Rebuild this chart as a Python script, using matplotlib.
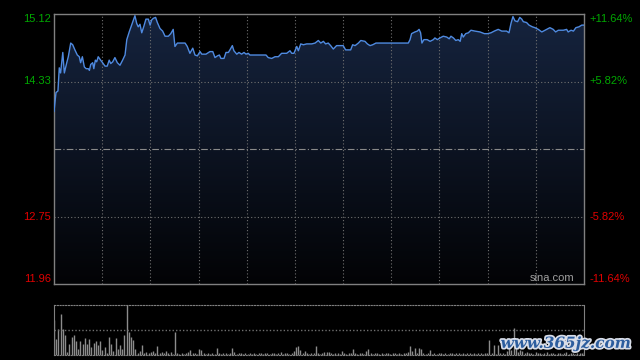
import matplotlib
matplotlib.use("Agg")
import matplotlib.pyplot as plt
import matplotlib.patheffects as pe
from matplotlib.patches import Polygon
import numpy as np

# 分时数据（开盘后分钟数，价格）
minute = [0, 0.9, 1.8, 2.4, 3.0, 4.0, 4.7, 5.8, 6.5, 7.6, 8.5, 9.5, 10.6, 11.5, 12.1,
          12.9, 13.8, 14.6, 15.6, 16.1, 16.7, 17.6, 18.1, 18.8, 19.4, 20.1, 21.2, 22.1,
          23.2, 24.2, 25.1, 25.8, 26.7, 27.7, 28.8, 30.0, 31.2, 32.3, 33.1, 34.2, 35.3,
          36.1, 36.8, 37.6, 38.3, 39.1, 39.9, 40.9, 41.8, 42.9, 43.7, 44.4, 45.2, 46.2,
          47.0, 48.2, 49.4, 50.5, 52.0, 53.1, 54.2, 55.0, 56.1, 57.3, 59.6, 60.6, 61.8,
          63.1, 64.1, 65.2, 66.4, 67.2, 69.1, 70.9, 72.2, 73.2, 74.3, 75.2, 75.9, 77.3,
          78.2, 79.3, 80.0, 81.1, 81.8, 83.1, 84.1, 85.3, 86.4, 87.3, 88.3, 89.1, 91.4,
          96.4, 97.4, 99.0, 100.5, 102.0, 103.5, 105.8, 107.3, 108.1, 109.1, 110.4,
          111.1, 112.2, 113.4, 114.9, 117.2, 118.7, 120.2, 121.3, 122.5, 123.5, 124.7,
          125.8, 127.0, 128.5, 130.0, 131.5, 132.6, 134.9, 135.8, 136.9, 138.4, 139.5,
          141.4, 142.5, 143.7, 144.9, 146.4, 148.2, 149.7, 152.0, 154.3, 156.1, 158.1,
          161.1, 161.9, 162.6, 164.1, 165.2, 166.0, 166.7, 167.3, 168.2, 169.7, 171.0,
          172.5, 173.2, 174.3, 175.5, 177.0, 178.6, 179.7, 180.5, 181.6, 182.7, 183.8,
          184.7, 185.4, 186.1, 187.2, 188.4, 189.6, 191.4, 193.7, 195.7, 197.2, 198.7,
          200.2, 202.0, 203.6, 205.8, 206.9, 207.8, 208.7, 209.6, 210.8, 211.8, 212.7,
          213.4, 214.9, 216.0, 217.5, 218.7, 220.2, 221.8, 223.3, 225.5, 227.0, 228.1,
          229.3, 231.6, 233.1, 233.8, 235.1, 236.2, 237.3, 238.7, 240.0, 241.0]
price = [13.98, 14.20, 14.22, 14.49, 14.43, 14.67, 14.43, 14.55, 14.62, 14.78, 14.76,
         14.70, 14.64, 14.62, 14.55, 14.62, 14.50, 14.48, 14.48, 14.46, 14.53, 14.55,
         14.48, 14.58, 14.56, 14.62, 14.58, 14.55, 14.51, 14.51, 14.58, 14.54, 14.56,
         14.61, 14.55, 14.52, 14.58, 14.64, 14.82, 14.91, 14.99, 15.05, 15.10, 15.01,
         14.97, 15.00, 14.90, 14.98, 15.06, 15.06, 14.99, 15.05, 15.07, 15.08, 15.02,
         14.95, 14.92, 14.86, 14.86, 14.89, 14.94, 14.74, 14.78, 14.78, 14.78, 14.74,
         14.66, 14.72, 14.64, 14.63, 14.68, 14.65, 14.65, 14.68, 14.68, 14.61, 14.63,
         14.64, 14.60, 14.60, 14.67, 14.67, 14.70, 14.75, 14.69, 14.65, 14.67, 14.65,
         14.67, 14.65, 14.66, 14.64, 14.64, 14.64, 14.61, 14.60, 14.62, 14.62, 14.66,
         14.66, 14.69, 14.66, 14.66, 14.74, 14.69, 14.77, 14.76, 14.77, 14.77, 14.78,
         14.81, 14.78, 14.80, 14.77, 14.78, 14.75, 14.71, 14.75, 14.75, 14.75, 14.70,
         14.70, 14.76, 14.75, 14.78, 14.81, 14.80, 14.77, 14.75, 14.76, 14.78, 14.78,
         14.78, 14.78, 14.78, 14.78, 14.78, 14.78, 14.82, 14.89, 14.91, 14.92, 14.94,
         14.90, 14.78, 14.82, 14.82, 14.80, 14.82, 14.84, 14.82, 14.84, 14.86, 14.85,
         14.83, 14.86, 14.84, 14.81, 14.82, 14.80, 14.89, 14.85, 14.89, 14.90, 14.93,
         14.92, 14.91, 14.89, 14.89, 14.90, 14.92, 14.94, 14.92, 14.92, 14.90, 15.01,
         15.09, 15.04, 15.03, 15.08, 15.06, 15.03, 15.02, 14.99, 14.97, 14.96, 14.94,
         14.91, 14.93, 14.96, 14.94, 14.91, 14.93, 14.93, 14.94, 14.91, 14.93, 14.92,
         14.96, 14.97, 14.99, 14.99]

# 每分钟成交量（相对值）
volume = [70, 33, 53, 82, 53, 40, 7, 23, 37, 41,
          28, 13, 28, 23, 35, 23, 32, 17, 25, 28,
          20, 28, 10, 17, 5, 37, 23, 8, 35, 12,
          20, 12, 41, 100, 47, 37, 30, 12, 5, 8,
          20, 5, 7, 4, 6, 8, 5, 19, 4, 6,
          5, 8, 4, 6, 3, 47, 4, 3, 5, 3,
          4, 6, 10, 4, 5, 3, 12, 10, 4, 3,
          4, 3, 5, 3, 15, 4, 3, 5, 4, 3,
          4, 15, 6, 3, 4, 5, 3, 4, 3, 5,
          3, 4, 3, 5, 4, 3, 5, 4, 3, 4,
          5, 3, 4, 6, 3, 4, 5, 3, 4, 8,
          17, 18, 10, 5, 8, 4, 3, 5, 4, 18,
          4, 3, 5, 7, 7, 7, 4, 3, 5, 4,
          3, 8, 4, 3, 5, 4, 12, 4, 3, 5,
          4, 3, 8, 12, 4, 3, 5, 4, 3, 4,
          3, 5, 4, 3, 4, 5, 3, 4, 3, 5,
          4, 6, 18, 8, 15, 5, 15, 12, 4, 3,
          4, 10, 3, 4, 3, 5, 4, 3, 4, 3,
          5, 4, 3, 4, 5, 3, 4, 3, 5, 4,
          3, 4, 3, 5, 4, 3, 4, 5, 30, 4,
          21, 3, 20, 4, 5, 3, 8, 27, 10, 55,
          15, 6, 10, 8, 5, 6, 4, 5, 3, 6,
          4, 5, 3, 4, 6, 3, 4, 5, 3, 4,
          5, 3, 4, 6, 3, 4, 5, 3, 4, 5,
          4, 6]

pre_close = 13.54
price_ticks = [15.12, 14.33, 12.75, 11.96]
pct_labels = ["+11.64%", "+5.82%", "-5.82%", "-11.64%"]
up_color = "#00a800"
down_color = "#e00000"
grid_color = "#707070"

fig = plt.figure(figsize=(6.4, 3.6), dpi=100, facecolor="black")
ax = fig.add_axes([54 / 640, 1 - 284 / 360, 530 / 640, 270 / 360])
vax = fig.add_axes([54 / 640, 1 - 355 / 360, 530 / 640, 50 / 360])

ymin, ymax = price_ticks[-1], price_ticks[0]
ax.set_facecolor("black")
ax.set_xlim(0, 241)
ax.set_ylim(ymin, ymax)
ax.set_xticks([])
ax.set_yticks([])

# 曲线下方的渐变填充
t = np.linspace(0, 1, 256).reshape(-1, 1)
top = np.array([0.085, 0.140, 0.245])
bottom = np.array([0.010, 0.012, 0.020])
grad = (top * (1 - t) + bottom * t).reshape(256, 1, 3)
im = ax.imshow(grad, extent=[0, 241, ymin, ymax], aspect="auto", origin="upper", zorder=1)
verts = list(zip(minute, price)) + [(minute[-1], ymin), (minute[0], ymin)]
poly = Polygon(verts, closed=True, facecolor="none", edgecolor="none")
ax.add_patch(poly)
im.set_clip_path(poly)

# 网格
for k in range(1, 11):
    ax.axvline(241 * k / 11, color=grid_color, lw=0.8, ls=(0, (1, 2)), zorder=2)
for v in price_ticks[1:3]:
    ax.axhline(v, color=grid_color, lw=0.8, ls=(0, (1, 2)), zorder=2)
ax.axhline(pre_close, color="#8a8a8a", lw=0.8, ls=(0, (6, 2, 1, 2)), zorder=2)

ax.plot(minute, price, color="#4f8ae0", lw=1.0, zorder=3)

for s in ax.spines.values():
    s.set_color("#808080")
    s.set_linewidth(1.0)

# 坐标标签
ytr = ax.get_yaxis_transform()
for i, (v, lab) in enumerate(zip(price_ticks, pct_labels)):
    c = up_color if v > pre_close else down_color
    va = "top" if i == 0 else ("bottom" if i == 3 else "center")
    off = -0.004 if i == 0 else (0.004 if i == 3 else 0)
    ax.text(-0.006, v + off, f"{v:.2f}", transform=ytr, ha="right", va=va,
            color=c, fontsize=8, family="Liberation Sans")
    ax.text(1.011, v + off, lab, transform=ytr, ha="left", va=va,
            color=c, fontsize=8, family="Liberation Sans")

ax.text(0.982, 0.005, "sina.com", transform=ax.transAxes, ha="right", va="bottom",
        color="#a0a0a0", fontsize=8, family="Liberation Sans", zorder=4)

# 成交量
vax.set_facecolor("black")
vax.set_xlim(0, 241)
vax.set_ylim(0, 100)
vax.set_xticks([])
vax.set_yticks([])
vax.vlines(np.arange(len(volume)), 0, volume, color="#8c8c8c", lw=1.0)
vax.axhline(50, color=grid_color, lw=1.0, ls=(0, (1, 1.5)))
for name, s in vax.spines.items():
    s.set_color("#808080")
    if name in ("top", "bottom"):
        s.set_linestyle((0, (1, 1.5)))

# 水印
fig.text(0.985, 0.045, "www.365jz.com", ha="right", va="center", fontsize=11,
         color="#2c5d9e", family="DejaVu Serif", weight="bold", style="italic",
         path_effects=[pe.withStroke(linewidth=2.5, foreground="#d8dde8")])

fig.savefig("out.png", dpi=100, facecolor="black")
